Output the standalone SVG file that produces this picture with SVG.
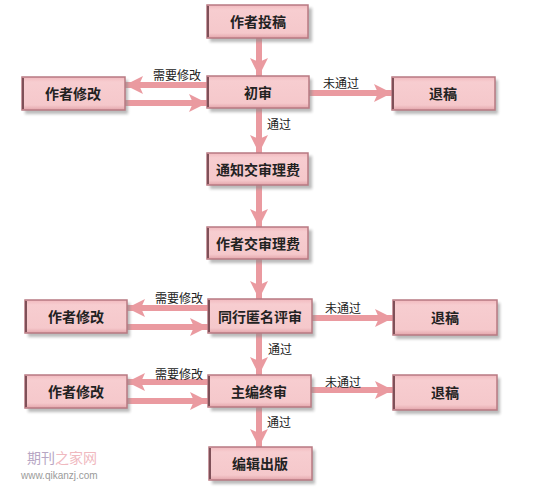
<svg xmlns="http://www.w3.org/2000/svg" width="558" height="488" viewBox="0 0 558 488">
<defs>
<linearGradient id="bf" x1="0" y1="0" x2="0" y2="1">
<stop offset="0" stop-color="#f1b9be"/>
<stop offset="0.15" stop-color="#f7cdd0"/>
<stop offset="0.85" stop-color="#f5c8cb"/>
<stop offset="1" stop-color="#e3a5ab"/>
</linearGradient>
<filter id="sh" x="-10%" y="-20%" width="130%" height="160%">
<feGaussianBlur stdDeviation="1.5"/>
</filter>
<marker id="ah" markerUnits="userSpaceOnUse" markerWidth="20" markerHeight="20" viewBox="0 0 20 20" refX="18" refY="10" orient="auto">
<path d="M0,1 L18,10 L0,19 L4,10 Z" fill="#ea9aa0"/>
</marker>
</defs>
<style>
.sh{fill:#8c8c8c;opacity:0.6;filter:url(#sh)}
.bx{fill:url(#bf);stroke:#b87a82;stroke-width:1.5}
.ed{stroke:#7f5058;stroke-width:2}
.t{font-family:"Noto Sans CJK SC","Noto Sans",sans-serif;font-size:14px;font-weight:bold;fill:#222;text-anchor:middle;dominant-baseline:central}
.l{font-family:"Noto Sans CJK SC","Noto Sans",sans-serif;font-size:12px;fill:#222;dominant-baseline:central}
.c{fill:none;stroke:#ea9aa0;stroke-width:6;marker-end:url(#ah)}
</style>
<rect width="558" height="488" fill="#ffffff"/>
<g id="connectors">
<path class="c" d="M259,38 V76"/>
<path class="c" d="M259,108 V153"/>
<path class="c" d="M259,185 V227"/>
<path class="c" d="M259,259 V299"/>
<path class="c" d="M259,333 V375"/>
<path class="c" d="M259,407 V447"/>
<path class="c" d="M207,85 H125"/>
<path class="c" d="M125,103 H207"/>
<path class="c" d="M309,93 H392"/>
<path class="c" d="M208,308 H127"/>
<path class="c" d="M127,327 H208"/>
<path class="c" d="M312,318 H393"/>
<path class="c" d="M208,382 H127"/>
<path class="c" d="M127,401 H208"/>
<path class="c" d="M311,390 H393"/>
<text class="l" x="153" y="74">需要修改</text>
<text class="l" x="323" y="82">未通过</text>
<text class="l" x="267" y="123">通过</text>
<text class="l" x="155" y="297">需要修改</text>
<text class="l" x="325" y="307">未通过</text>
<text class="l" x="268" y="348">通过</text>
<text class="l" x="155" y="373">需要修改</text>
<text class="l" x="325" y="381">未通过</text>
<text class="l" x="267" y="421">通过</text>
</g>
<g id="n1"><rect class="sh" x="210" y="8" width="102" height="34"/><rect class="bx" x="207" y="5" width="101" height="33"/><line class="ed" x1="208" y1="6" x2="208" y2="37"/><text class="t" x="258" y="21">作者投稿</text></g>
<g id="n2"><rect class="sh" x="210" y="79" width="102" height="33"/><rect class="bx" x="207" y="76" width="102" height="32"/><line class="ed" x1="208" y1="77" x2="208" y2="107"/><text class="t" x="258" y="92">初审</text></g>
<g id="n3"><rect class="sh" x="25" y="80" width="103" height="34"/><rect class="bx" x="22" y="77" width="103" height="33"/><line class="ed" x1="23" y1="78" x2="23" y2="109"/><text class="t" x="73" y="93">作者修改</text></g>
<g id="n4"><rect class="sh" x="395" y="80" width="103" height="34"/><rect class="bx" x="392" y="77" width="103" height="33"/><line class="ed" x1="393" y1="78" x2="393" y2="109"/><text class="t" x="443" y="93">退稿</text></g>
<g id="n5"><rect class="sh" x="210" y="156" width="102" height="33"/><rect class="bx" x="207" y="153" width="101" height="32"/><line class="ed" x1="208" y1="154" x2="208" y2="184"/><text class="t" x="258" y="169">通知交审理费</text></g>
<g id="n6"><rect class="sh" x="210" y="230" width="102" height="33"/><rect class="bx" x="207" y="227" width="101" height="32"/><line class="ed" x1="208" y1="228" x2="208" y2="258"/><text class="t" x="258" y="243">作者交审理费</text></g>
<g id="n7"><rect class="sh" x="211" y="302" width="104" height="35"/><rect class="bx" x="208" y="299" width="104" height="34"/><line class="ed" x1="209" y1="300" x2="209" y2="332"/><text class="t" x="260" y="316">同行匿名评审</text></g>
<g id="n8"><rect class="sh" x="28" y="303" width="102" height="34"/><rect class="bx" x="25" y="300" width="102" height="33"/><line class="ed" x1="26" y1="301" x2="26" y2="332"/><text class="t" x="76" y="316">作者修改</text></g>
<g id="n9"><rect class="sh" x="396" y="303" width="104" height="36"/><rect class="bx" x="393" y="300" width="104" height="35"/><line class="ed" x1="394" y1="301" x2="394" y2="334"/><text class="t" x="445" y="317">退稿</text></g>
<g id="n10"><rect class="sh" x="211" y="378" width="103" height="33"/><rect class="bx" x="208" y="375" width="103" height="32"/><line class="ed" x1="209" y1="376" x2="209" y2="406"/><text class="t" x="259" y="391">主编终审</text></g>
<g id="n11"><rect class="sh" x="28" y="378" width="102" height="34"/><rect class="bx" x="25" y="375" width="102" height="33"/><line class="ed" x1="26" y1="376" x2="26" y2="407"/><text class="t" x="76" y="391">作者修改</text></g>
<g id="n12"><rect class="sh" x="396" y="378" width="104" height="36"/><rect class="bx" x="393" y="375" width="104" height="35"/><line class="ed" x1="394" y1="376" x2="394" y2="409"/><text class="t" x="445" y="392">退稿</text></g>
<g id="n13"><rect class="sh" x="212" y="450" width="103" height="34"/><rect class="bx" x="209" y="447" width="103" height="33"/><line class="ed" x1="210" y1="448" x2="210" y2="479"/><text class="t" x="260" y="463">编辑出版</text></g>
<g id="watermark">
<text x="27" y="457" style="font-family:'Noto Sans CJK SC',sans-serif;font-size:14px;dominant-baseline:central"><tspan fill="#b7a6c4">期刊</tspan><tspan fill="#f0b9bf">之家网</tspan></text>
<text x="21" y="475" style="font-family:'Liberation Sans',sans-serif;font-size:10px;fill:#9a9a9a;dominant-baseline:central">www.qikanzj.com</text>
</g>
</svg>
